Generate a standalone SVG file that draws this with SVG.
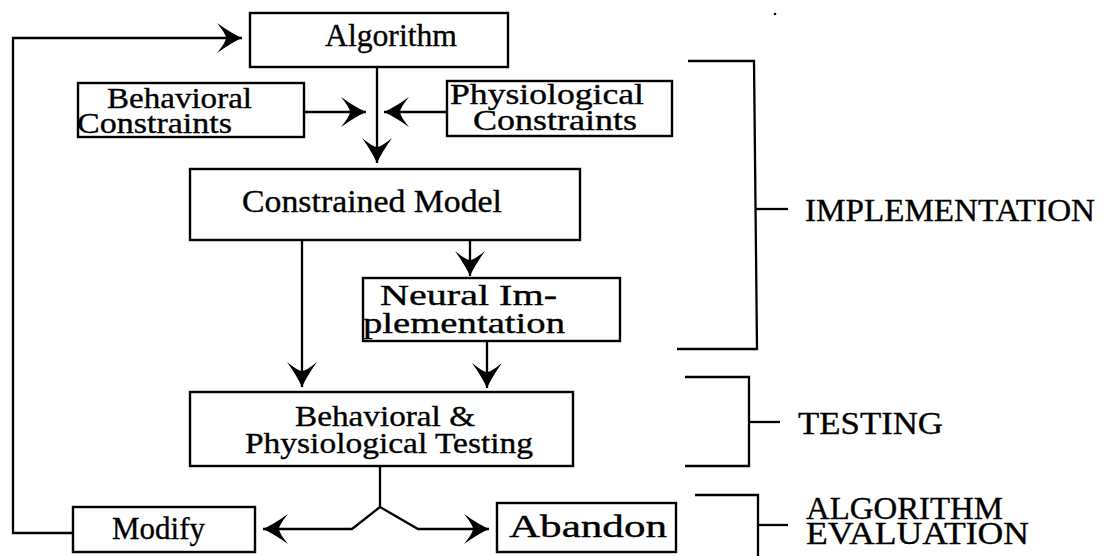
<svg xmlns="http://www.w3.org/2000/svg" width="1109" height="556" viewBox="0 0 1109 556">
<style>
  .box{fill:#fff;stroke:#000;stroke-width:2.4}
  .ln{fill:none;stroke:#000;stroke-width:2.3;stroke-linejoin:miter}
  .t{font-family:"Liberation Serif","Times New Roman",serif;fill:#000;stroke:#000;stroke-width:0.35;font-size:31px}
  .t2{font-family:"Liberation Serif","Times New Roman",serif;fill:#000;stroke:#000;stroke-width:0.35;font-size:29px}
  .lab{font-family:"Liberation Serif","Times New Roman",serif;fill:#000;stroke:#000;stroke-width:0.35;font-size:32px}
</style>
<defs>
  <marker id="ah" viewBox="-27 -17 29 34" markerWidth="29" markerHeight="34" refX="0" refY="0" orient="auto" markerUnits="userSpaceOnUse">
    <path d="M0,0 Q-11,-5 -25,-15 Q-16,-4 -16,0 Q-16,4 -25,15 Q-11,5 0,0 Z" fill="#000"/>
  </marker>
</defs>
<rect width="1109" height="556" fill="#fff"/>

<g id="connectors">
  <polyline class="ln" points="73,533 13,533 13,38 242,38" marker-end="url(#ah)"/>
  <line class="ln" x1="377" y1="67" x2="377" y2="163" marker-end="url(#ah)"/>
  <line class="ln" x1="304" y1="112" x2="366" y2="112" marker-end="url(#ah)"/>
  <line class="ln" x1="447" y1="112" x2="384" y2="112" marker-end="url(#ah)"/>
  <line class="ln" x1="302" y1="240" x2="302" y2="387" marker-end="url(#ah)"/>
  <line class="ln" x1="470" y1="240" x2="470" y2="276" marker-end="url(#ah)"/>
  <line class="ln" x1="487" y1="341" x2="487" y2="388" marker-end="url(#ah)"/>
  <polyline class="ln" points="380,466 380,507 352,529 263,529" marker-end="url(#ah)"/>
  <polyline class="ln" points="380,507 418,529 489,529" marker-end="url(#ah)"/>
</g>

<g id="algorithm">
  <rect class="box" x="250" y="13" width="258" height="54"/>
  <text class="t" x="325" y="46" textLength="132" lengthAdjust="spacingAndGlyphs">Algorithm</text>
</g>
<g id="behavioral-constraints">
  <rect class="box" x="78" y="83" width="226" height="54"/>
  <text class="t2" x="107" y="108" textLength="145" lengthAdjust="spacingAndGlyphs">Behavioral</text>
  <text class="t2" x="77" y="133" textLength="155" lengthAdjust="spacingAndGlyphs">Constraints</text>
</g>
<g id="physiological-constraints">
  <rect class="box" x="447" y="81" width="225" height="55"/>
  <text class="t2" x="450" y="104" textLength="194" lengthAdjust="spacingAndGlyphs">Physiological</text>
  <text class="t2" x="473" y="130" textLength="164" lengthAdjust="spacingAndGlyphs">Constraints</text>
</g>
<g id="constrained-model">
  <rect class="box" x="190" y="169" width="390" height="71"/>
  <text class="t" x="242" y="212" textLength="260" lengthAdjust="spacingAndGlyphs">Constrained Model</text>
</g>
<g id="neural-implementation">
  <rect class="box" x="363" y="278" width="257" height="63"/>
  <text class="t2" x="380" y="305" textLength="177" lengthAdjust="spacingAndGlyphs">Neural Im-</text>
  <text class="t2" x="363" y="333" textLength="202" lengthAdjust="spacingAndGlyphs">plementation</text>
</g>
<g id="testing">
  <rect class="box" x="190" y="392" width="383" height="74"/>
  <text class="t2" x="295" y="426" textLength="180" lengthAdjust="spacingAndGlyphs">Behavioral &amp;</text>
  <text class="t2" x="245" y="453" textLength="288" lengthAdjust="spacingAndGlyphs">Physiological Testing</text>
</g>
<g id="modify">
  <rect class="box" x="73" y="507" width="182" height="45"/>
  <text class="t" x="112" y="539" textLength="93" lengthAdjust="spacingAndGlyphs">Modify</text>
</g>
<g id="abandon">
  <rect class="box" x="497" y="503" width="179" height="49"/>
  <text class="t" x="509" y="537" textLength="158" lengthAdjust="spacingAndGlyphs">Abandon</text>
</g>

<g id="implementation-bracket">
  <polyline class="ln" points="688,61 754,61 757,349 677,349"/>
  <line class="ln" x1="756" y1="209" x2="788" y2="209"/>
  <text class="lab" x="805" y="221" textLength="290" lengthAdjust="spacingAndGlyphs">IMPLEMENTATION</text>
</g>
<g id="testing-bracket">
  <polyline class="ln" points="685,377 749,377 749,466 685,466"/>
  <line class="ln" x1="749" y1="422" x2="780" y2="422"/>
  <text class="lab" x="798" y="434" textLength="145" lengthAdjust="spacingAndGlyphs">TESTING</text>
</g>
<g id="evaluation-bracket">
  <polyline class="ln" points="695,495 758,495 758,556"/>
  <line class="ln" x1="758" y1="525" x2="788" y2="525"/>
  <text class="lab" x="806" y="519" textLength="197" lengthAdjust="spacingAndGlyphs">ALGORITHM</text>
  <text class="lab" x="806" y="544" textLength="223" lengthAdjust="spacingAndGlyphs">EVALUATION</text>
</g>
<circle cx="775" cy="14" r="1.3" fill="#000"/>
</svg>
